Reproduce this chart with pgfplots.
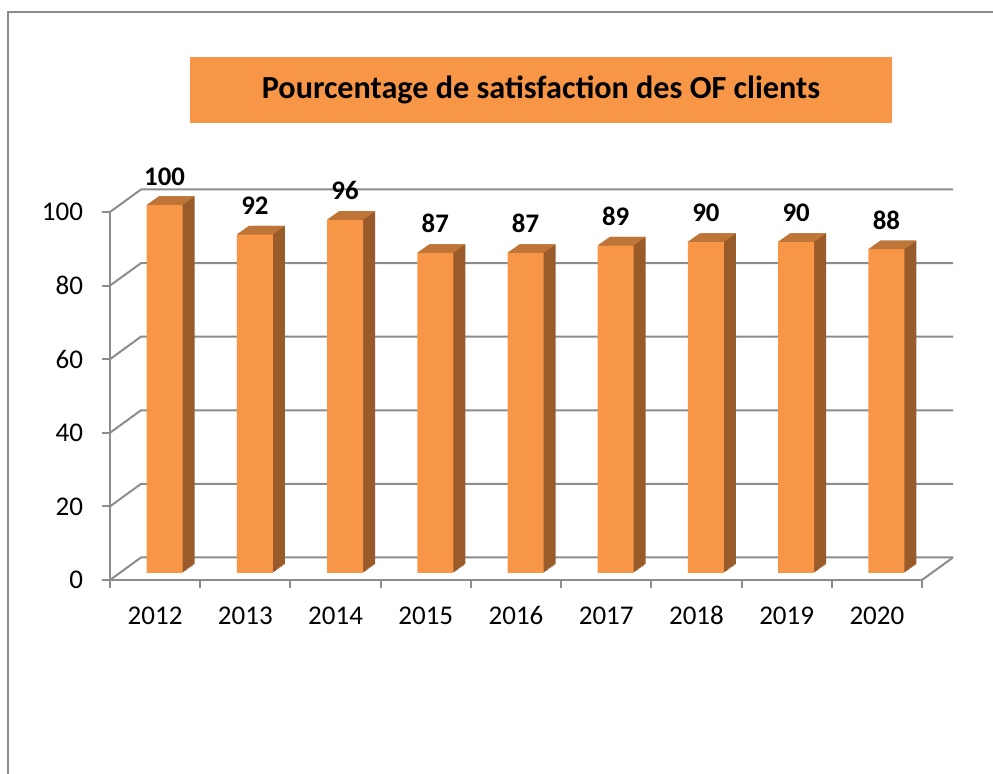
\documentclass[border=0pt]{standalone}
\usepackage{pgfplots}
\usepackage{pgfplotstable}
\pgfplotsset{compat=1.18}
\usepackage{fontspec}
\setmainfont{Carlito}
\definecolor{barfront}{HTML}{F79646}
\definecolor{bartop}{HTML}{C07538}
\definecolor{barside}{HTML}{9A5B2A}
\definecolor{gridgray}{HTML}{8C8C8C}
\pgfdeclareplotmark{topface}{%
  \pgfpathmoveto{\pgfpoint{-9pt}{0pt}}%
  \pgfpathlineto{\pgfpoint{9pt}{0pt}}%
  \pgfpathlineto{\pgfpoint{15pt}{4.25pt}}%
  \pgfpathlineto{\pgfpoint{-3pt}{4.25pt}}%
  \pgfpathclose\pgfusepathqfill}
\pgfplotstableread{
x v
0 100
1 92
2 96
3 87
4 87
5 89
6 90
7 90
8 88
}\satdata
\begin{document}
\begin{tikzpicture}
\useasboundingbox (0,0) rectangle (496.5pt,387pt);
\draw[gridgray, line width=1pt] (4pt,0) -- (4pt,381pt) -- (496.5pt,381pt);
\node[fill=barfront, minimum width=351pt, minimum height=33pt, inner sep=0pt,
      font=\bfseries\fontsize{16.1}{18}\selectfont] at (270.5pt,342pt)
      {Pourcentage de satisfaction des OF clients};
\begin{axis}[
  at={(55pt,97pt)}, anchor=south west,
  scale only axis, width=406pt, height=184pt,
  xmin=-0.5, xmax=8.5, ymin=0, ymax=100,
  clip=false,
  axis x line*=bottom, axis y line*=left,
  axis line style={gridgray, line width=1pt},
  tick align=outside,
  ytick={0,20,40,60,80,100},
  major tick length=4pt, minor tick length=4pt,
  ytick style={gridgray, line width=1pt},
  xtick={0,...,8},
  xticklabels={2012,2013,2014,2015,2016,2017,2018,2019,2020},
  major x tick style={draw=none},
  minor xtick={-0.5,0.5,...,8.5},
  minor x tick style={gridgray, line width=1pt},
  /pgf/number format/assume math mode=true,
  ticklabel style={font=\fontsize{13.5}{15}\selectfont, text=black},
  xticklabel style={yshift=-6pt, text height=8.6pt, text depth=0pt},
  yticklabel style={xshift=-6pt},
]
\pgfplotsinvokeforeach{0,20,40,60,80,100}{
  \draw[gridgray, line width=1pt] (axis cs:-0.5,#1) -- ++(15.5pt,11.25pt) -- ([shift={(15.5pt,11.25pt)}]axis cs:8.5,#1);
}
\draw[gridgray, line width=1pt] (axis cs:8.5,0) -- ++(15.5pt,11.25pt);
\pgfplotsinvokeforeach{1,...,8}{
  \addplot[ybar, bar width=18pt, bar shift={4.75pt+#1*0.75pt}, yshift={3.5pt+#1*0.53125pt},
           fill=barside, draw=none] table[x=x, y=v] {\satdata};
}
\addplot[only marks, mark=topface, fill=bartop, draw=none, xshift=4.75pt, yshift=3.5pt]
  table[x=x, y=v] {\satdata};
\addplot[ybar, bar width=18pt, bar shift=4.75pt, yshift=3.5pt, fill=barfront, draw=none,
  nodes near coords,
  every node near coord/.append style={font=\bfseries\fontsize{13.4}{15}\selectfont,
     text=black, anchor=south, inner sep=0pt, xshift=4.75pt, yshift=9.7pt}]
  table[x=x, y=v] {\satdata};
\end{axis}
\end{tikzpicture}
\end{document}
